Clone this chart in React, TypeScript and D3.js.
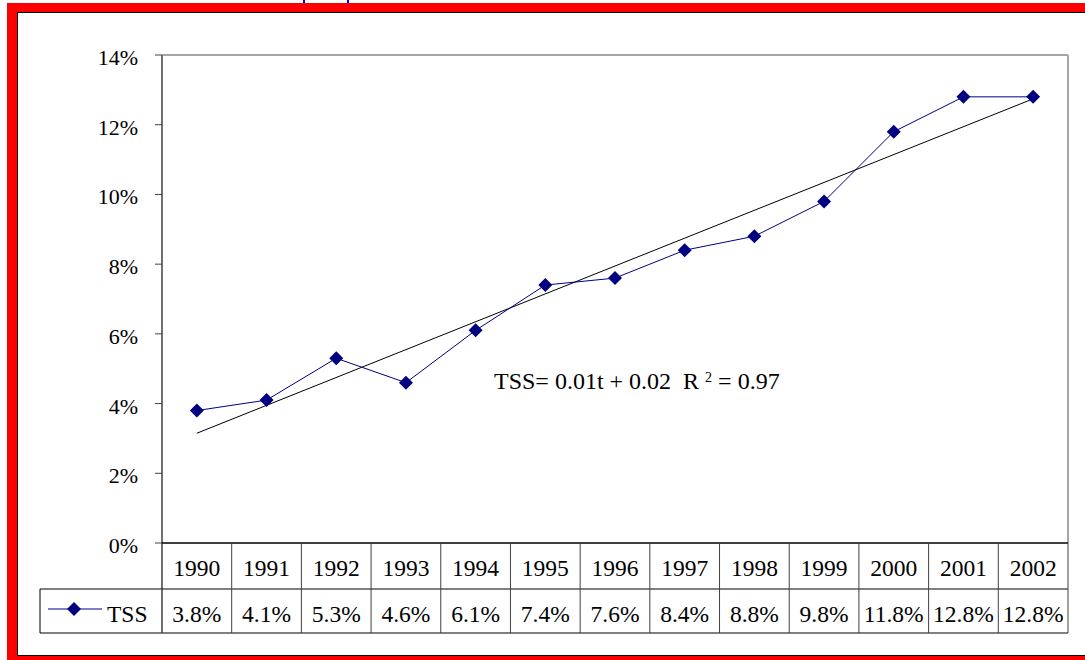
import * as d3 from "d3";

const years = ["1990", "1991", "1992", "1993", "1994", "1995", "1996", "1997", "1998", "1999", "2000", "2001", "2002"];
const tss = [3.8, 4.1, 5.3, 4.6, 6.1, 7.4, 7.6, 8.4, 8.8, 9.8, 11.8, 12.8, 12.8];
const yTicks = [0, 2, 4, 6, 8, 10, 12, 14];
const seriesName = "TSS";
const equation = "TSS= 0.01t + 0.02  R";
const rSquared = " = 0.97";

const W = 1085;
const H = 660;
const plot = { left: 162, right: 1068, top: 55, bottom: 543 };
const rowH = [46, 44];
const font = "Liberation Serif";
const navy = "#000080";
const fsAxis = 22;
const fsTable = 23.5;

export default function App() {
  const x = d3
    .scaleBand()
    .domain(years)
    .range([plot.left, plot.right]);
  const y = d3.scaleLinear().domain([0, 14]).range([plot.bottom, plot.top]);
  const cx = (yr: string) => (x(yr) ?? 0) + x.bandwidth() / 2;

  // least squares trend line over t = 1..n
  const n = tss.length;
  const ts = d3.range(1, n + 1);
  const mt = d3.mean(ts) ?? 0;
  const mv = d3.mean(tss) ?? 0;
  const slope =
    d3.sum(ts, (t, i) => (t - mt) * (tss[i] - mv)) / d3.sum(ts, (t) => (t - mt) ** 2);
  const trend = (t: number) => mv + slope * (t - mt);

  const line = d3
    .line<number>()
    .x((_, i) => cx(years[i]))
    .y((d) => y(d));

  const diamond = (px: number, py: number, r = 7) =>
    `M${px},${py - r}L${px + r},${py}L${px},${py + r}L${px - r},${py}Z`;

  const row1 = plot.bottom + rowH[0];
  const row2 = row1 + rowH[1];
  const legendLeft = 40;

  return (
    <svg
      width={W}
      height={H}
      style={{ position: "absolute", left: 0, top: 0, fontFamily: font }}
    >
      <rect x={0} y={0} width={W} height={H} fill="#fff" />
      {/* remnants of the page above */}
      <line x1={304} x2={304} y1={0} y2={3} stroke="#0000ff" strokeWidth={2} />
      <line x1={348} x2={348} y1={0} y2={3} stroke="#0000ff" strokeWidth={2} />
      {/* red frame */}
      <rect x={7} y={3} width={W} height={H} fill="#ff0000" />
      <rect x={17.5} y={12.5} width={W} height={643} fill="#fff" stroke="#000" strokeWidth={1} />

      {/* plot area border */}
      <line x1={plot.left} x2={plot.right} y1={plot.top} y2={plot.top} stroke="#a6a6a6" strokeWidth={2} />
      <line x1={plot.right} x2={plot.right} y1={plot.top} y2={plot.bottom} stroke="#a6a6a6" strokeWidth={2} />
      <line x1={plot.left} x2={plot.left} y1={plot.top} y2={row1} stroke="#707070" strokeWidth={2} />

      {/* y axis ticks and labels */}
      {yTicks.map((t) => (
        <g key={t}>
          <line x1={155} x2={plot.left} y1={y(t)} y2={y(t)} stroke="#404040" strokeWidth={1} />
          <text x={138} y={y(t) + 10} textAnchor="end" fontSize={fsAxis} fill="#000">
            {t}%
          </text>
        </g>
      ))}

      {/* trend line */}
      <line
        x1={cx(years[0])}
        y1={y(trend(1))}
        x2={cx(years[n - 1])}
        y2={y(trend(n))}
        stroke="#000"
        strokeWidth={1}
      />

      {/* series */}
      <path d={line(tss) ?? ""} fill="none" stroke={navy} strokeWidth={1} />
      {tss.map((v, i) => (
        <path key={i} d={diamond(cx(years[i]), y(v))} fill={navy} />
      ))}

      {/* equation */}
      <text x={494} y={389} fontSize={24} fill="#000" style={{ whiteSpace: "pre" }}>
        {equation}
        <tspan dx={6} dy={-7} fontSize={14}>2</tspan>
        <tspan dy={7} fontSize={24}>{rSquared}</tspan>
      </text>

      {/* data table */}
      <line x1={plot.left} x2={plot.right} y1={plot.bottom} y2={plot.bottom} stroke="#000" strokeWidth={1.5} />
      <line x1={legendLeft} x2={plot.right} y1={row1} y2={row1} stroke="#000" strokeWidth={1} />
      <line x1={legendLeft} x2={plot.right} y1={row2} y2={row2} stroke="#000" strokeWidth={1} />
      <line x1={legendLeft} x2={legendLeft} y1={row1} y2={row2} stroke="#000" strokeWidth={1} />
      {years.map((yr) => (
        <line
          key={yr}
          x1={(x(yr) ?? 0) + x.bandwidth()}
          x2={(x(yr) ?? 0) + x.bandwidth()}
          y1={plot.bottom}
          y2={row2}
          stroke="#404040"
          strokeWidth={1}
        />
      ))}
      <line x1={plot.left} x2={plot.left} y1={row1} y2={row2} stroke="#404040" strokeWidth={1.5} />
      {years.map((yr, i) => (
        <g key={yr}>
          <text x={cx(yr)} y={plot.bottom + 33} textAnchor="middle" fontSize={fsTable} fill="#000">
            {yr}
          </text>
          <text x={cx(yr)} y={row1 + 33} textAnchor="middle" fontSize={fsTable} fill="#000">
            {tss[i].toFixed(1)}%
          </text>
        </g>
      ))}

      {/* legend key */}
      <line x1={48} x2={102} y1={row1 + 20} y2={row1 + 20} stroke={navy} strokeWidth={1} />
      <path d={diamond(74, row1 + 20)} fill={navy} />
      <text x={107} y={row1 + 33} fontSize={fsTable} fill="#000">
        {seriesName}
      </text>
    </svg>
  );
}
